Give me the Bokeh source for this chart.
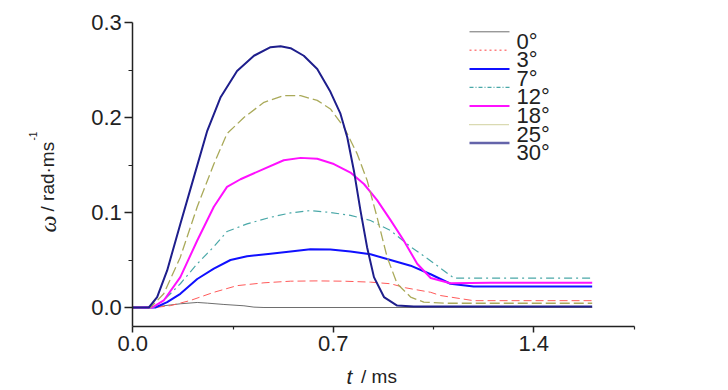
import math
from bokeh.plotting import figure
from bokeh.models import Range1d, FixedTicker, Label, LinearAxis
from bokeh.core.properties import value
from bokeh.embed import file_html
from bokeh.resources import INLINE

# ---------------- data ----------------
angles = ["0°", "3°", "7°", "12°", "18°", "25°", "30°"]

t_0 = [0, 0.038, 0.108, 0.166, 0.225, 0.260, 0.318, 0.388, 0.423, 0.458, 1.604]
w_0 = [0, 0, 0.0018, 0.0039, 0.0053, 0.0046, 0.0032, 0.0018, 0.0004, 0, 0]

t_3 = [0, 0.079, 0.132, 0.201, 0.283, 0.364, 0.458, 0.551, 0.644, 0.737, 0.830,
       0.900, 0.953, 1.040, 1.074, 1.19, 1.604]
w_3 = [0, 0, 0.002, 0.0074, 0.016, 0.023, 0.026, 0.0277, 0.028, 0.0277, 0.0267,
       0.025, 0.0207, 0.016, 0.0126, 0.0072, 0.0072]

t_7 = [0, 0.079, 0.120, 0.166, 0.225, 0.283, 0.341, 0.399, 0.481, 0.551, 0.620,
       0.690, 0.760, 0.830, 0.900, 0.970, 1.040, 1.109, 1.19, 1.604]
w_7 = [0, 0, 0.0056, 0.0144, 0.030, 0.041, 0.050, 0.054, 0.0565, 0.059, 0.0614,
       0.061, 0.059, 0.056, 0.050, 0.044, 0.035, 0.025, 0.022, 0.022]

t_12 = [0, 0.073, 0.108, 0.166, 0.225, 0.283, 0.329, 0.399, 0.481, 0.551, 0.620,
        0.690, 0.760, 0.830, 0.900, 0.970, 1.045, 1.121, 1.604]
w_12 = [0, 0, 0.0074, 0.025, 0.046, 0.064, 0.080, 0.088, 0.095, 0.0996, 0.102,
        0.100, 0.097, 0.0916, 0.081, 0.064, 0.048, 0.031, 0.031]

t_18 = [0, 0.068, 0.108, 0.166, 0.225, 0.283, 0.329, 0.376, 0.458, 0.527, 0.586,
        0.644, 0.702, 0.760, 0.807, 0.853, 0.900, 0.946, 0.993, 1.040, 1.109, 1.25, 1.604]
w_18 = [0, 0, 0.0074, 0.032, 0.0705, 0.106, 0.127, 0.135, 0.146, 0.155, 0.1575,
        0.1565, 0.151, 0.142, 0.130, 0.113, 0.092, 0.0705, 0.046, 0.031, 0.0256, 0.026, 0.026]

t_25 = [0, 0.062, 0.108, 0.166, 0.225, 0.283, 0.329, 0.388, 0.458, 0.527, 0.586,
        0.644, 0.690, 0.737, 0.783, 0.818, 0.853, 0.888, 0.923, 0.970, 1.016, 1.1, 1.604]
w_25 = [0, 0, 0.0144, 0.053, 0.106, 0.151, 0.183, 0.200, 0.216, 0.223, 0.223,
        0.218, 0.209, 0.190, 0.162, 0.134, 0.095, 0.053, 0.025, 0.011, 0.0056, 0.0045, 0.0045]

t_30 = [0, 0.056, 0.085, 0.120, 0.166, 0.213, 0.260, 0.306, 0.364, 0.423, 0.481,
        0.516, 0.551, 0.597, 0.644, 0.690, 0.725, 0.749, 0.772, 0.795, 0.818,
        0.842, 0.877, 0.923, 0.981, 1.604]
w_30 = [0, 0, 0.0109, 0.039, 0.088, 0.137, 0.186, 0.221, 0.249, 0.265, 0.274,
        0.275, 0.273, 0.265, 0.251, 0.227, 0.204, 0.179, 0.144, 0.102, 0.0635,
        0.032, 0.011, 0.002, 0.001, 0.001]

x_ticks = [0.0, 0.7, 1.4]
x_tick_labels = ["0.0", "0.7", "1.4"]
x_minor = [0.35, 1.05, 1.75]
y_ticks = [0.0, 0.1, 0.2, 0.3]
y_tick_labels = ["0.0", "0.1", "0.2", "0.3"]
y_minor = [0.05, 0.15, 0.25]
x_bounds = (0.0, 1.752)
y_bounds = (-0.02, 0.3)

series_t = [t_0, t_3, t_7, t_12, t_18, t_25, t_30]
series_w = [w_0, w_3, w_7, w_12, w_18, w_25, w_30]

# ---------------- styles ----------------
colors = ["#6e6e6e", "#ff5a5a", "#1010ff", "#4aa8a8", "#ff10ff", "#aaaa5a", "#1e1e8c"]
widths = [1.0, 1.0, 2.0, 1.2, 2.0, 1.3, 2.0]
dashes = ["solid", "8 4", "solid", "8 4 2 4", "solid", "10 4", "solid"]
leg_colors = ["#6e6e6e", "#ff8080", "#1010ff", "#4aa8a8", "#ff10ff", "#b4b464", "#6464aa"]
leg_widths = [1.0, 1.5, 2.0, 1.2, 2.0, 1.3, 2.5]
leg_dashes = ["solid", "2 3", "solid", "4 2 1 2", "solid", "1 1", "solid"]

FONT = "Liberation Sans"
TXT = "#222222"

# layout: the frame fills the canvas; axes sit at fixed data locations
W, H = 720, 390
X0, SX = 132.3, 286.4   # pixel of t=0, pixels per ms
Y0, SY = 307.0, 950.0   # pixel of w=0, pixels per rad/ms

def dx(px):
    return (px - X0) / SX

def dy(py):
    return (Y0 - py) / SY

p = figure(width=W, height=H, x_range=Range1d(dx(0), dx(W)), y_range=Range1d(dy(H), dy(0)),
           output_backend="svg", toolbar_location=None,
           x_axis_location=None, y_axis_location=None,
           min_border=0, min_border_left=0, min_border_right=0,
           min_border_top=0, min_border_bottom=0)
p.xgrid.visible = False
p.ygrid.visible = False
p.outline_line_color = None
p.background_fill_color = "white"
p.border_fill_color = "white"

xax = LinearAxis(fixed_location=y_bounds[0], bounds=x_bounds)
yax = LinearAxis(fixed_location=x_bounds[0], bounds=y_bounds)
for ax in (xax, yax):
    ax.axis_line_color = TXT
    ax.axis_line_width = 1.5
    ax.major_tick_line_color = TXT
    ax.minor_tick_line_color = TXT
    ax.major_tick_line_width = 1.5
    ax.minor_tick_line_width = 1.2
    ax.major_tick_in = 0
    ax.minor_tick_in = 0
    ax.major_label_text_font = FONT
    ax.major_label_text_font_size = "22px"
    ax.major_label_text_color = TXT
    ax.major_label_standoff = 3

xax.ticker = FixedTicker(ticks=x_ticks, minor_ticks=x_minor)
xax.major_label_overrides = {t: l for t, l in zip(x_ticks, x_tick_labels)}
xax.major_tick_out = 6
xax.minor_tick_out = 3
yax.ticker = FixedTicker(ticks=y_ticks, minor_ticks=y_minor)
yax.major_label_overrides = {t: l for t, l in zip(y_ticks, y_tick_labels)}
yax.major_tick_out = 8
yax.minor_tick_out = 4
p.add_layout(xax, "below")
p.add_layout(yax, "left")

for t, w, c, lw, ld in zip(series_t, series_w, colors, widths, dashes):
    p.line(t, w, line_color=c, line_width=lw, line_dash=ld, line_join="round")

# manual legend (rows overlap as in the reference)
row0, step = 31.3, 18.55
for i, name in enumerate(angles):
    ry = row0 + i * step
    p.segment(x0=[dx(469)], y0=[dy(ry)], x1=[dx(509)], y1=[dy(ry)],
              line_color=leg_colors[i], line_width=leg_widths[i], line_dash=leg_dashes[i])
    p.text(x=[dx(516)], y=[dy(ry + 9.5)], text=[name], text_font=value(FONT),
           text_font_size="22px", text_color=TXT, text_align="left",
           text_baseline="alphabetic")

# axis titles
p.add_layout(Label(x=dx(346), y=dy(376), text="t", text_font=FONT, text_font_style="italic",
                   text_font_size="21px", text_color=TXT, text_align="left",
                   text_baseline="alphabetic"))
p.add_layout(Label(x=dx(360.5), y=dy(376), text="/ ms", text_font=FONT,
                   text_font_size="19px", text_color=TXT, text_align="left",
                   text_baseline="alphabetic"))

p.add_layout(Label(x=dx(47), y=dy(232), text="ω", text_font="Liberation Serif",
                   text_font_style="italic", text_font_size="24px", text_color=TXT,
                   angle=math.pi / 2, text_align="left", text_baseline="alphabetic"))
p.add_layout(Label(x=dx(47), y=dy(211), text="/ rad·ms", text_font=FONT,
                   text_font_size="19px", text_color=TXT,
                   angle=math.pi / 2, text_align="left", text_baseline="alphabetic"))
p.add_layout(Label(x=dx(32), y=dy(140), text="-1", text_font=FONT,
                   text_font_size="10px", text_color=TXT,
                   angle=math.pi / 2, text_align="left", text_baseline="alphabetic"))

open("out.html", "w").write(file_html(p, INLINE))
